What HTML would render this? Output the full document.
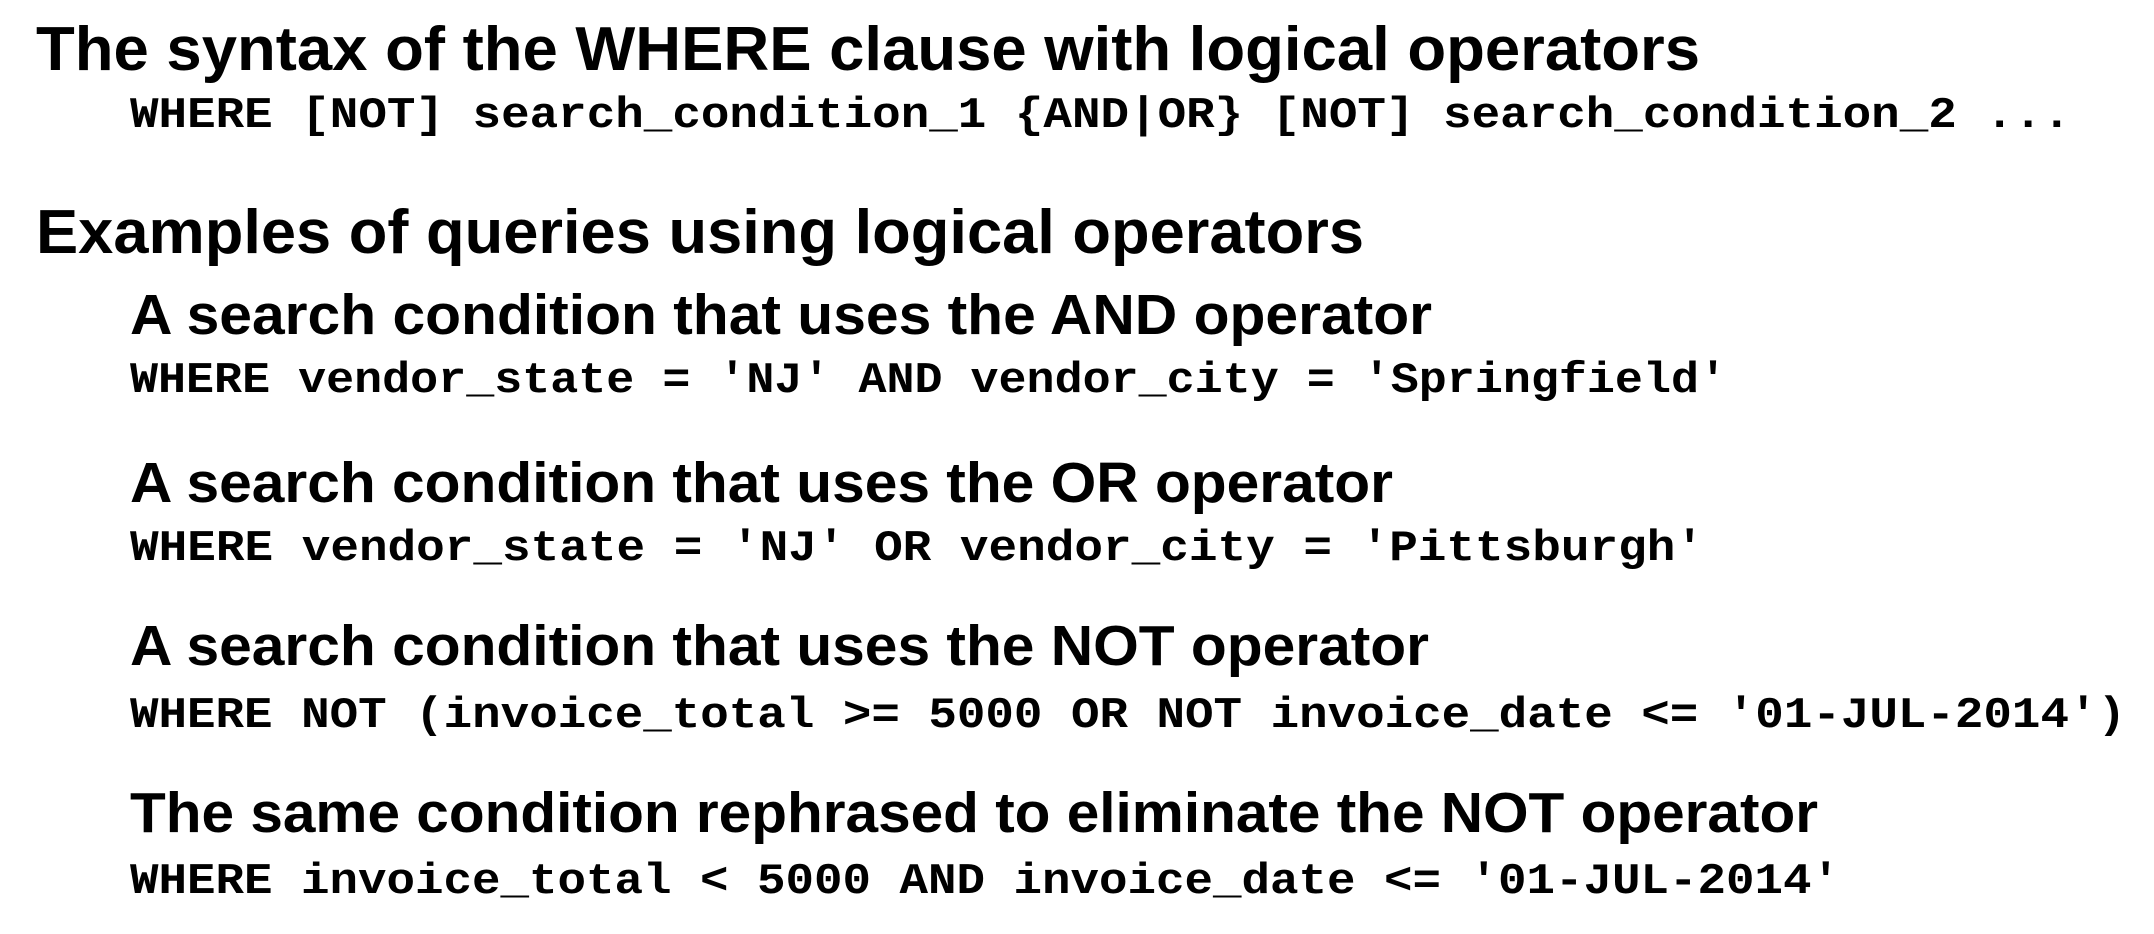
<!DOCTYPE html>
<html><head><meta charset="utf-8"><style>
html,body{margin:0;padding:0;background:#fff;}
svg{display:block;}
.h{font-family:"Liberation Sans",Arial,sans-serif;font-weight:bold;fill:#000;}
.m{font-family:"Liberation Mono","Courier New",monospace;font-weight:bold;fill:#000;}
</style></head><body>
<svg width="2154" height="934" viewBox="0 0 2154 934" xmlns="http://www.w3.org/2000/svg">
<text class="h" x="36" y="70" font-size="62" textLength="1664" lengthAdjust="spacingAndGlyphs">The syntax of the WHERE clause with logical operators</text>
<text class="m" x="130" y="127" font-size="44" textLength="1941" lengthAdjust="spacingAndGlyphs">WHERE [NOT] search_condition_1 {AND|OR} [NOT] search_condition_2 ...</text>
<text class="h" x="36" y="253" font-size="62" textLength="1328" lengthAdjust="spacingAndGlyphs">Examples of queries using logical operators</text>

<text class="h" x="130" y="334" font-size="57" textLength="1302" lengthAdjust="spacingAndGlyphs">A search condition that uses the AND operator</text>
<text class="m" x="130" y="392" font-size="44" textLength="1597" lengthAdjust="spacingAndGlyphs">WHERE vendor_state = 'NJ' AND vendor_city = 'Springfield'</text>

<text class="h" x="130" y="502" font-size="57" textLength="1263" lengthAdjust="spacingAndGlyphs">A search condition that uses the OR operator</text>
<text class="m" x="130" y="560" font-size="44" textLength="1574" lengthAdjust="spacingAndGlyphs">WHERE vendor_state = 'NJ' OR vendor_city = 'Pittsburgh'</text>

<text class="h" x="130" y="665" font-size="57" textLength="1299" lengthAdjust="spacingAndGlyphs">A search condition that uses the NOT operator</text>
<text class="m" x="130" y="727" font-size="44" textLength="1996" lengthAdjust="spacingAndGlyphs">WHERE NOT (invoice_total &gt;= 5000 OR NOT invoice_date &lt;= '01-JUL-2014')</text>

<text class="h" x="130" y="832" font-size="57" textLength="1688" lengthAdjust="spacingAndGlyphs">The same condition rephrased to eliminate the NOT operator</text>
<text class="m" x="130" y="893" font-size="44" textLength="1710" lengthAdjust="spacingAndGlyphs">WHERE invoice_total &lt; 5000 AND invoice_date &lt;= '01-JUL-2014'</text>
</svg>
</body></html>
